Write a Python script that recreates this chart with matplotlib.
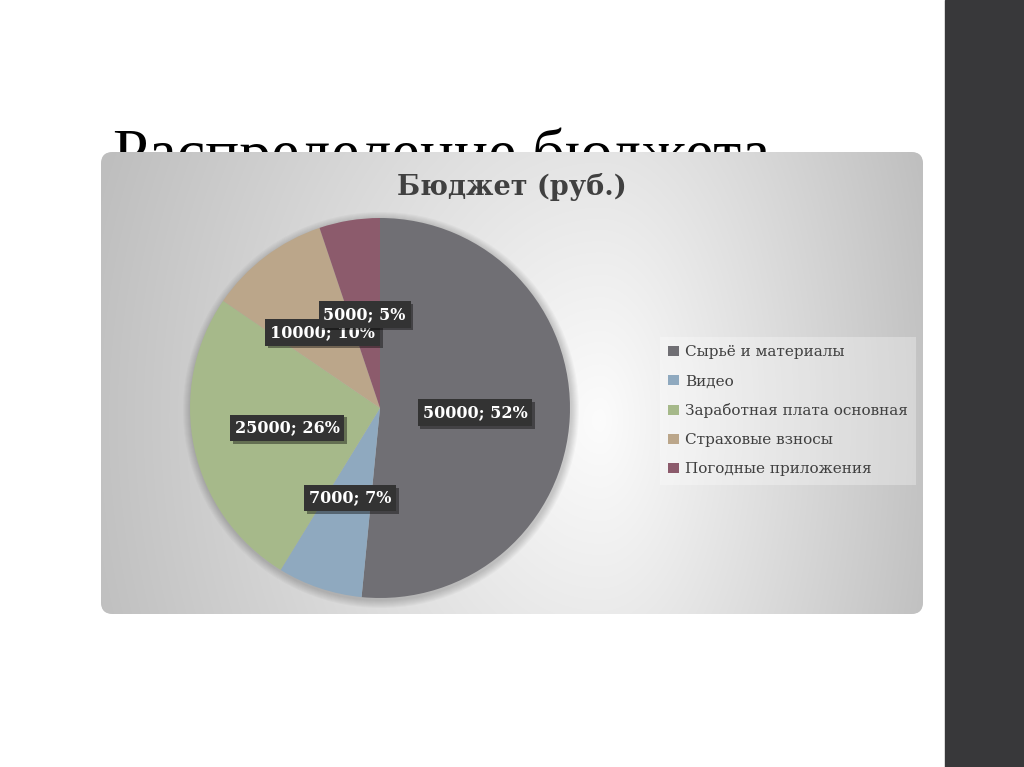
import numpy as np
import matplotlib
matplotlib.use("Agg")
import matplotlib.pyplot as plt
import matplotlib.patheffects as pe
from matplotlib.patches import FancyBboxPatch, Rectangle, Circle

# data
categories = ["Сырьё и материалы", "Видео", "Заработная плата основная",
              "Страховые взносы", "Погодные приложения"]
values = [50000, 7000, 25000, 10000, 5000]
colors = ["#706f74", "#8fa9bf", "#a6b98a", "#bba68a", "#8c5b6c"]
slide_title = "Распределение бюджета"
chart_title = "Бюджет (руб.)"

W, H = 1024, 767
fig = plt.figure(figsize=(W / 100, H / 100), dpi=100)
fig.patch.set_facecolor("white")

bg = fig.add_axes([0, 0, 1, 1])
bg.set_xlim(0, W)
bg.set_ylim(H, 0)
bg.axis("off")

# dark strip on the right side of the slide
bg.add_patch(Rectangle((945, 0), W - 945, H, color="#38383a", zorder=1))

# slide title, partly hidden behind the chart panel
bg.text(113, 173, slide_title, fontsize=46, family="Liberation Serif",
        color="black", va="baseline", ha="left", zorder=1)

# chart panel with a soft radial gradient
px0, py0, px1, py1 = 101, 152, 923, 614
panel = FancyBboxPatch((px0, py0), px1 - px0, py1 - py0,
                       boxstyle="round,pad=0,rounding_size=12",
                       fc="#d8d8d8", ec="none", zorder=2)
bg.add_patch(panel)
gx, gy = np.meshgrid(np.arange(px0, px1), np.arange(py0, py1))
dx = gx - 600.0
sx = np.where(dx < 0, 500.0, 330.0)
r = np.sqrt((dx / sx) ** 2 + ((gy - 420) / 650.0) ** 2)
shade = np.clip(252 - 58 * r, 190, 255) / 255.0
img = bg.imshow(np.dstack([shade] * 3), extent=(px0, px1, py1, py0),
                origin="upper", zorder=3, interpolation="bilinear")
img.set_clip_path(panel)
bg.set_xlim(0, W)
bg.set_ylim(H, 0)

# faint shadow around the pie
cx, cy, rad = 380, 408, 190
for i in range(8):
    bg.add_patch(Circle((cx + 1, cy + 2), rad + 8 - i, fc="black",
                        ec="none", alpha=0.022, zorder=4))

bg.text((px0 + px1) / 2, 187, chart_title, fontsize=19.5,
        family="DejaVu Serif", weight="bold", color="#404040",
        ha="center", va="center", zorder=5)

# pie
ax = fig.add_axes([(cx - rad) / W, (H - cy - rad) / H, 2 * rad / W, 2 * rad / H])
ax.patch.set_visible(False)
total = sum(values)


def fmt(pct):
    v = int(round(pct * total / 100.0))
    return f"{v}; {pct:.0f}%"


wedges, texts, autotexts = ax.pie(
    values, colors=colors, startangle=90, counterclock=False, radius=1,
    autopct=fmt, pctdistance=0.5, wedgeprops=dict(linewidth=0),
)
ax.set_xlim(-1, 1)
ax.set_ylim(-1, 1)
ax.set_aspect("equal")

for t in autotexts:
    t.set_fontsize(11.5)
    t.set_family("DejaVu Serif")
    t.set_weight("bold")
    t.set_color("white")
    t.set_bbox(dict(boxstyle="square,pad=0.3", fc="#333333", ec="none"))
    t.get_bbox_patch().set_path_effects(
        [pe.SimplePatchShadow(offset=(2, -2), shadow_rgbFace="black", alpha=0.4),
         pe.Normal()])

leg = ax.legend(wedges, categories, loc="upper left",
                bbox_to_anchor=(660 / W, 1 - 337 / H),
                bbox_transform=fig.transFigure,
                prop=dict(family="DejaVu Serif", size=11),
                labelcolor="#404040", frameon=True, fancybox=False,
                handlelength=0.7, handleheight=0.7, handletextpad=0.4,
                labelspacing=0.98, borderpad=0.55, borderaxespad=0)
leg.get_frame().set_facecolor("white")
leg.get_frame().set_alpha(0.3)
leg.get_frame().set_edgecolor("none")

fig.savefig("out.png", dpi=100)
